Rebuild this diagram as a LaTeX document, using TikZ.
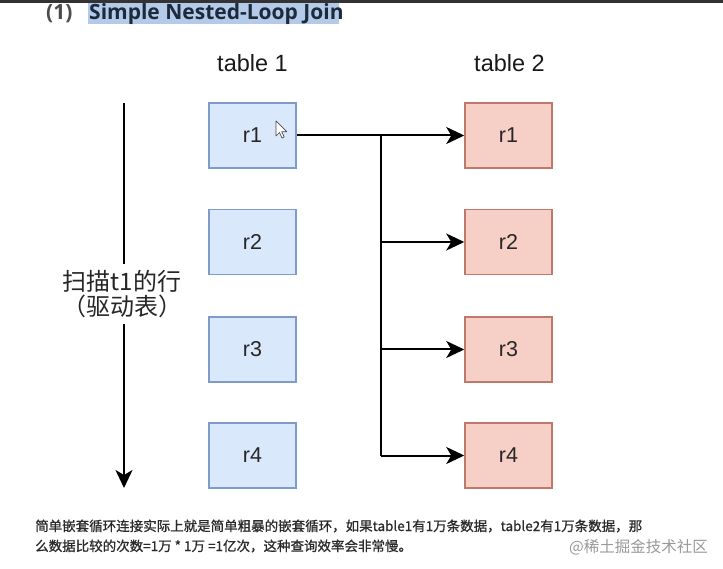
\documentclass[tikz,border=0pt]{standalone}
\usepackage{fontspec}
\setmainfont{Liberation Sans}
\newfontfamily\cjk{Noto Sans CJK SC}
\newfontfamily\cjkmed[FakeBold=0.9]{Noto Sans CJK SC}
\newfontfamily\titlefont{Open Sans}
\usetikzlibrary{arrows.meta}
\definecolor{bluefill}{HTML}{DAE8FC}
\definecolor{blueline}{HTML}{7E9BCB}
\definecolor{redfill}{HTML}{F6D0C6}
\definecolor{redline}{HTML}{C0786A}
\definecolor{hl}{HTML}{B3CAE8}
\definecolor{titlec}{HTML}{1C2A3C}
\definecolor{bodytext}{HTML}{2A2A2A}
\begin{document}
\begin{tikzpicture}[x=1pt,y=-1pt,
  rowbox/.style={draw, line width=1.5pt, minimum width=87pt, minimum height=65pt, inner sep=0pt, font=\fontsize{21.5}{21.5}\selectfont, text=black!85},
  t1box/.style={rowbox, fill=bluefill, draw=blueline},
  t2box/.style={rowbox, fill=redfill, draw=redline},
  conn/.style={line width=2pt, -{Stealth[length=18pt,width=17pt,inset=5pt]}},
  plainline/.style={line width=2pt},
  header/.style={font=\fontsize{23.5}{24}\selectfont, text=black!90, inner sep=0pt},
]
\useasboundingbox (0,0) rectangle (723,569);
\fill[white] (0,0) rectangle (723,569);

% title
\fill[hl] (88,0) rectangle (339,24);
\node[anchor=base west, font=\titlefont\bfseries\fontsize{21}{21}\selectfont, text=black!70, inner sep=0pt] (num) at (46,19.5) {(1)};
\node[anchor=base west, font=\titlefont\bfseries\fontsize{21}{21}\selectfont, text=titlec, inner sep=0pt] (title) at (89,19.5) {Simple Nested-Loop Join};
\fill[black!80] (0,0) rectangle (723,3);

% headers
\node[header] (h1) at (252.5,63) {table 1};
\node[header] (h2) at (509.5,63) {table 2};

% table 1 rows
\node[t1box] (a1) at (252.5,135.5) {r1};
\node[t1box] (a2) at (252.5,242) {r2};
\node[t1box] (a3) at (252.5,349.5) {r3};
\node[t1box] (a4) at (252.5,455.5) {r4};

% table 2 rows
\node[t2box] (b1) at (508.5,135.5) {r1};
\node[t2box] (b2) at (508.5,242) {r2};
\node[t2box] (b3) at (508.5,349.5) {r3};
\node[t2box] (b4) at (508.5,455.5) {r4};

% cursor
\draw[fill=white, line width=0.7pt, line join=round, draw=black!70] (276,121) -- ++(0,15) -- ++(3.5,-3.5) -- ++(2.5,5.5) -- ++(2.2,-1) -- ++(-2.5,-5.3) -- ++(5,0) -- cycle;

% connectors
\coordinate (jtop) at (381,135.5);
\coordinate (jbot) at (381,455.5);
\draw[conn] (a1.east) -- (b1.west);
\draw[plainline] (jtop) -- (jbot);
\draw[conn] (jtop|-b2) -- (b2.west);
\draw[conn] (jtop|-b3) -- (b3.west);
\draw[conn] (jbot) -- (b4.west);

% scan arrow
\coordinate (s0) at (124,103);
\coordinate (s1) at (124,488);
\draw[conn] (s0) -- (s1);
\node[fill=white, align=center, font=\cjk\fontsize{24}{25}\selectfont, inner xsep=1pt, inner ysep=6pt, text=black!85] (lab) at (122,294) {扫描t1的行\\（驱动表）};

% caption
\node[anchor=base west, font=\cjkmed\fontsize{13.5}{14}\selectfont, text=bodytext, inner sep=0pt] (c1) at (35,531) {简单嵌套循环连接实际上就是简单粗暴的嵌套循环，如果table1有1万条数据，table2有1万条数据，那};
\node[anchor=base west, font=\cjkmed\fontsize{13.5}{14}\selectfont, text=bodytext, inner sep=0pt] (c2) at (35,551) {么数据比较的次数=1万 * 1万 =1亿次，这种查询效率会非常慢。};
\node[anchor=base west, font=\cjk\fontsize{15.5}{16}\selectfont, text=black!40, inner sep=0pt] (wm) at (569,552) {@稀土掘金技术社区};
\end{tikzpicture}
\end{document}
